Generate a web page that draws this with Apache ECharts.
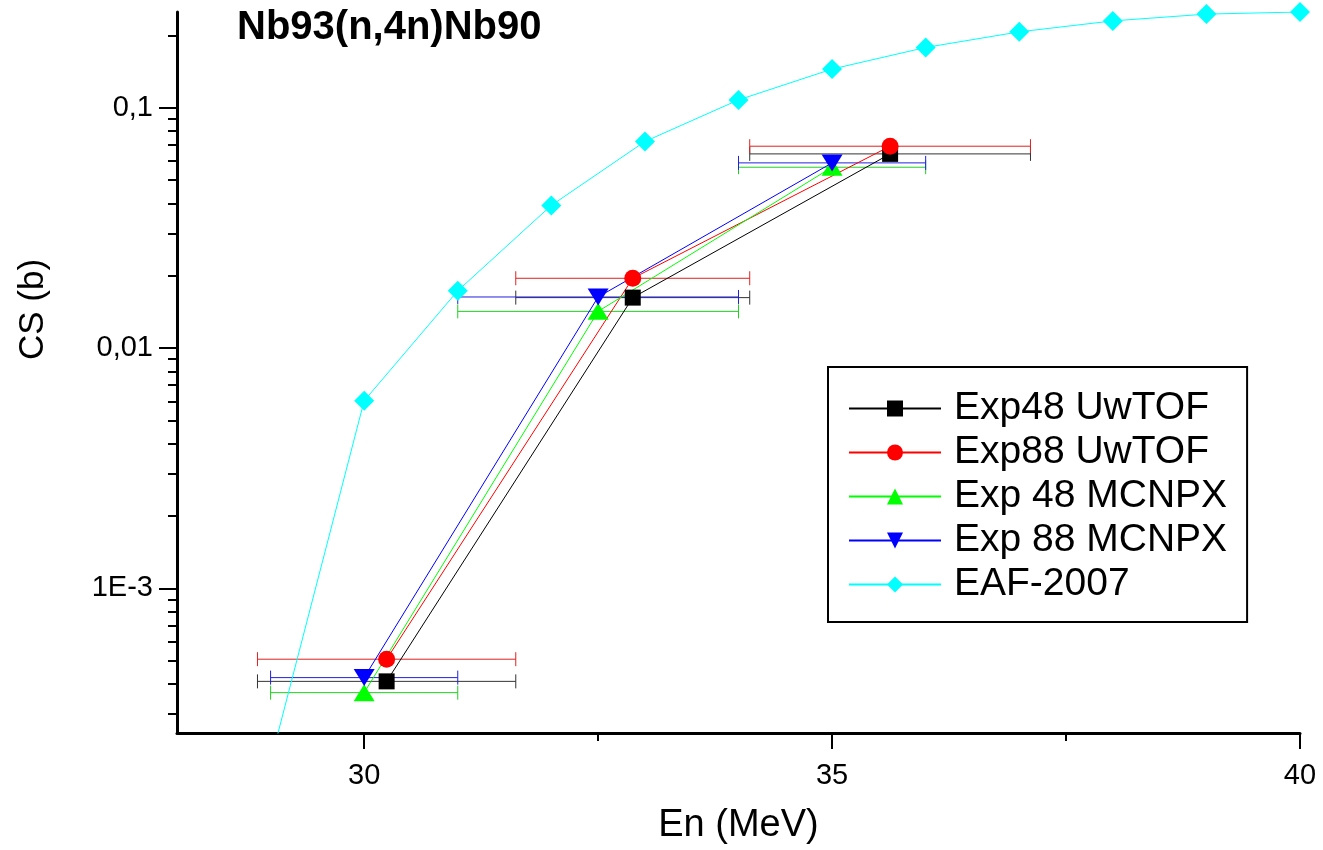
<!DOCTYPE html>
<html>
<head>
<meta charset="utf-8">
<script src="https://cdn.jsdelivr.net/npm/echarts@6/dist/echarts.min.js"></script>
<style>
html, body { margin: 0; padding: 0; background: #fff; }
#main { width: 1323px; height: 850px; }
</style>
</head>
<body>
<div id="main"></div>
<script>
// энергии (МэВ) и сечения (б)
const enUwTOF = [30.24, 32.87, 35.62];
const errUwTOF = [1.38, 1.25, 1.5];
const csExp48Uw = [4.1e-4, 0.0162, 0.0642];
const csExp88Uw = [5.07e-4, 0.0195, 0.0691];

const enMCNPX = [30, 32.5, 35];
const errMCNPX = [1, 1.5, 1];
const csExp48Mc = [3.68e-4, 0.0142, 0.0565];
const csExp88Mc = [4.25e-4, 0.0163, 0.0589];

const enEAF = [29, 30, 31, 32, 33, 34, 35, 36, 37, 38, 39, 40];
const csEAF = [1.9e-4, 0.00603, 0.0173, 0.0392, 0.0723, 0.1077, 0.1447, 0.178, 0.2067, 0.2296, 0.245, 0.25];

// деления осей
const xMajorTicks = [30, 35, 40];
const xMinorTicks = [32.5, 37.5];
const yMajorTicks = [0.001, 0.01, 0.1];
const yTickLabels = ['1E-3', '0,01', '0,1'];
const yMinorTicks = [3e-4, 4e-4, 5e-4, 6e-4, 7e-4, 8e-4, 9e-4,
    0.002, 0.003, 0.004, 0.005, 0.006, 0.007, 0.008, 0.009,
    0.02, 0.03, 0.04, 0.05, 0.06, 0.07, 0.08, 0.09, 0.2];

const font = 'Liberation Sans, Arial, sans-serif';

function pairs(xs, ys) {
    return xs.map((x, i) => [x, ys[i]]);
}

function bars(xs, ys, errs) {
    return xs.map((x, i) => [x, ys[i], x - errs[i], x + errs[i]]);
}

// горизонтальные погрешности
function errorSeries(name, color, data) {
    return {
        name: name,
        type: 'custom',
        silent: true,
        z: 1,
        data: data,
        encode: { x: [0, 2, 3], y: 1 },
        renderItem: function (params, api) {
            let y = api.value(1);
            let a = api.coord([api.value(2), y]);
            let b = api.coord([api.value(3), y]);
            let h = 7;
            let st = { stroke: color, lineWidth: 1 };
            return {
                type: 'group',
                children: [
                    { type: 'line', shape: { x1: a[0], y1: a[1], x2: b[0], y2: b[1] }, style: st },
                    { type: 'line', shape: { x1: a[0], y1: a[1] - h, x2: a[0], y2: a[1] + h }, style: st },
                    { type: 'line', shape: { x1: b[0], y1: b[1] - h, x2: b[0], y2: b[1] + h }, style: st }
                ]
            };
        }
    };
}

function lineSeries(name, color, data, symbol, size, rotate) {
    return {
        name: name,
        type: 'line',
        data: data,
        symbol: symbol,
        symbolSize: size,
        symbolRotate: rotate || 0,
        z: 3,
        itemStyle: { color: color },
        lineStyle: { color: color, width: 1 }
    };
}

let chart = echarts.init(document.getElementById('main'));
chart.setOption({
    animation: false,
    backgroundColor: '#fff',
    title: {
        text: 'Nb93(n,4n)Nb90',
        left: 232,
        top: 3,
        textStyle: { fontFamily: font, fontSize: 40, fontWeight: 'bold', color: '#000' }
    },
    legend: {
        data: ['Exp48 UwTOF', 'Exp88 UwTOF', 'Exp 48 MCNPX', 'Exp 88 MCNPX', 'EAF-2007'],
        orient: 'vertical',
        left: 828,
        top: 367,
        padding: [22, 20, 18, 20],
        itemGap: 5,
        itemWidth: 92,
        itemHeight: 20,
        borderColor: '#000',
        borderWidth: 2,
        backgroundColor: '#fff',
        textStyle: { fontFamily: font, fontSize: 39, color: '#000', padding: [0, 0, 0, 8] }
    },
    grid: { left: 177, right: 23, top: 12, bottom: 115 },
    xAxis: [
        {
            type: 'value',
            min: 28,
            max: 40,
            position: 'bottom',
            name: 'En (MeV)',
            nameLocation: 'middle',
            nameGap: 74,
            nameTextStyle: { fontFamily: font, fontSize: 38, color: '#000' },
            axisLine: { lineStyle: { color: '#000', width: 3 } },
            axisTick: { customValues: xMajorTicks, length: 16, lineStyle: { color: '#000', width: 2 } },
            axisLabel: { customValues: xMajorTicks, margin: 28, fontFamily: font, fontSize: 29, color: '#000' },
            splitLine: { show: false }
        },
        {
            type: 'value',
            min: 28,
            max: 40,
            position: 'bottom',
            axisLine: { show: false },
            axisTick: { customValues: xMinorTicks, length: 8, lineStyle: { color: '#000', width: 2 } },
            axisLabel: { show: false },
            splitLine: { show: false }
        }
    ],
    yAxis: [
        {
            type: 'log',
            logBase: 10,
            min: 0.00025,
            max: 0.25,
            position: 'left',
            name: 'CS (b)',
            nameLocation: 'middle',
            nameGap: 126,
            nameTextStyle: { fontFamily: font, fontSize: 35, color: '#000', padding: [0, 0, 0, 126] },
            axisLine: { lineStyle: { color: '#000', width: 3 } },
            axisTick: { customValues: yMajorTicks, length: 18, lineStyle: { color: '#000', width: 2 } },
            axisLabel: {
                customValues: yMajorTicks,
                margin: 24,
                fontFamily: font,
                fontSize: 29,
                color: '#000',
                formatter: v => yTickLabels[yMajorTicks.findIndex(t => Math.abs(t - v) / t < 1e-6)]
            },
            splitLine: { show: false }
        },
        {
            type: 'log',
            logBase: 10,
            min: 0.00025,
            max: 0.25,
            position: 'left',
            axisLine: { show: false },
            axisTick: { customValues: yMinorTicks, length: 9, lineStyle: { color: '#000', width: 2 } },
            axisLabel: { show: false },
            splitLine: { show: false }
        }
    ],
    series: [
        errorSeries('err48uw', '#333333', bars(enUwTOF, csExp48Uw, errUwTOF)),
        errorSeries('err88uw', '#e02020', bars(enUwTOF, csExp88Uw, errUwTOF)),
        errorSeries('err48mc', '#20d020', bars(enMCNPX, csExp48Mc, errMCNPX)),
        errorSeries('err88mc', '#2020e0', bars(enMCNPX, csExp88Mc, errMCNPX)),
        lineSeries('Exp48 UwTOF', '#000000', pairs(enUwTOF, csExp48Uw), 'rect', 16),
        lineSeries('Exp88 UwTOF', '#ff0000', pairs(enUwTOF, csExp88Uw), 'circle', 17),
        lineSeries('Exp 48 MCNPX', '#00ff00', pairs(enMCNPX, csExp48Mc), 'triangle', [21, 17]),
        lineSeries('Exp 88 MCNPX', '#0000ff', pairs(enMCNPX, csExp88Mc), 'triangle', [21, 17], 180),
        lineSeries('EAF-2007', '#00ffff', pairs(enEAF, csEAF), 'diamond', 20)
    ]
});
</script>
</body>
</html>
